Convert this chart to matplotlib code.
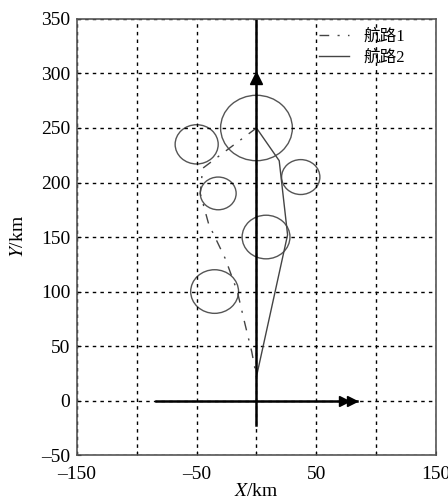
import matplotlib.pyplot as plt
from matplotlib.patches import Circle

plt.rcParams['font.family'] = ['Liberation Serif', 'Noto Sans CJK SC']
plt.rcParams['mathtext.fontset'] = 'stix'

# 威胁区 (圆心 x, 圆心 y, 半径)
circle_x = [0, -50, -32, 37, 8, -35]
circle_y = [250, 235, 190, 205, 150, 100]
circle_r = [30, 18, 15, 16, 20, 20]

# 航路1 (点划线)
route1_x = [0, -22, -45, -47, -40, -26, -16, -10, -4, 0]
route1_y = [250, 232, 213, 190, 162, 130, 100, 72, 45, 22]

# 航路2 (实线)
route2_x = [0, 19, 26, 0]
route2_y = [250, 220, 152, 22]

xticks = [-150, -100, -50, 0, 50, 100, 150]
xticklabels = ['\u2013150', '', '\u201350', '', '50', '', '150']
yticks = [-50, 0, 50, 100, 150, 200, 250, 300, 350]
yticklabels = ['\u201350', '0', '50', '100', '150', '200', '250', '300', '350']

fig = plt.figure(figsize=(4.48, 4.99), dpi=100)
ax = fig.add_axes([0.172, 0.088, 0.801, 0.874])

for cx, cy, r in zip(circle_x, circle_y, circle_r):
    ax.add_patch(Circle((cx, cy), r, fill=False, edgecolor='#555555', linewidth=1.0))

ax.plot(route1_x, route1_y, color='#444444', linewidth=1.0,
        dashes=(7, 6, 1.5, 6), label='航路1')
ax.plot(route2_x, route2_y, color='#444444', linewidth=1.0, label='航路2')

# 坐标轴箭头
ax.plot([0, 0], [-22, 350], color='black', linewidth=1.8)
ax.plot([-84, 84], [0, 0], color='black', linewidth=1.8)
ax.plot([0], [296], marker='^', color='black', markersize=8)
ax.plot([73, 80], [0, 0], marker='>', color='black', markersize=7, linestyle='none')

ax.set_xlim(-150, 150)
ax.set_ylim(-50, 350)
ax.set_xticks(xticks)
ax.set_xticklabels(xticklabels)
ax.set_yticks(yticks)
ax.set_yticklabels(yticklabels)
ax.tick_params(direction='in', length=3, labelsize=14)
ax.tick_params(axis='x', pad=8)
ax.tick_params(axis='y', pad=5)
ax.grid(True, color='black', linestyle=(0, (2.5, 3)), linewidth=1.0)

ax.set_xlabel('$X$/km', fontsize=14, labelpad=0)
ax.set_ylabel('$Y$/km', fontsize=14, labelpad=10)

for s in ax.spines.values():
    s.set_color('#555555')
    s.set_linewidth(1.2)

ax.legend(loc='upper left', bbox_to_anchor=(0.645, 1.0), frameon=False,
          fontsize=12, handlelength=1.8, borderaxespad=0.2,
          labelspacing=0.3, handletextpad=0.9)

plt.savefig('out.png', dpi=100)
